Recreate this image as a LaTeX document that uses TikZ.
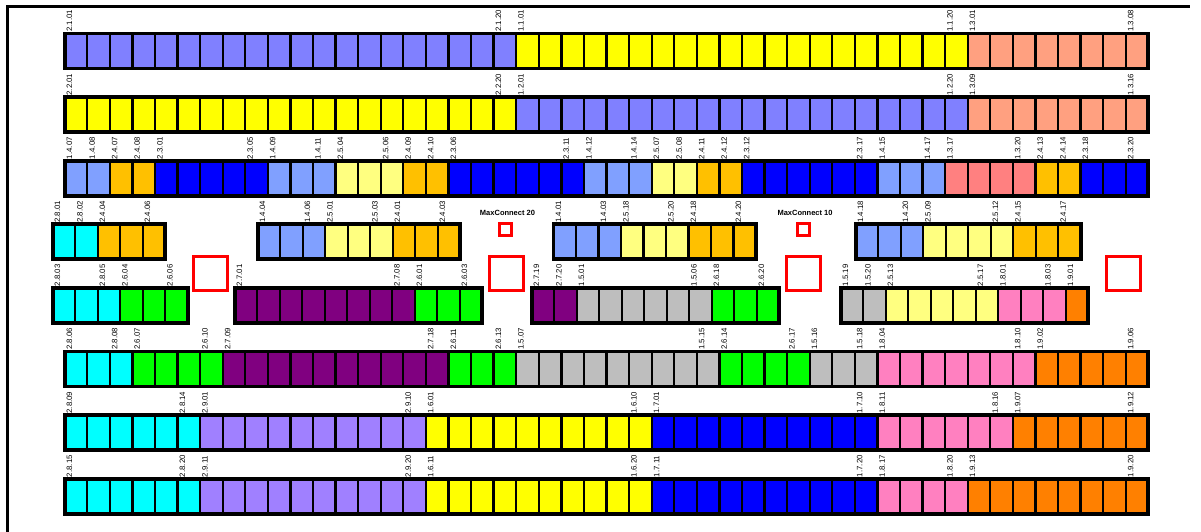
\documentclass[tikz,border=0pt]{standalone}
\usepackage{fontspec}
\setmainfont{Liberation Sans}
\definecolor{peri}{HTML}{8080FF}
\definecolor{yel}{HTML}{FFFF00}
\definecolor{salm}{HTML}{FFA080}
\definecolor{salmb}{HTML}{FF8080}
\definecolor{lblu}{HTML}{80A0FF}
\definecolor{orng}{HTML}{FFC000}
\definecolor{blu}{HTML}{0000FF}
\definecolor{lyel}{HTML}{FFFF80}
\definecolor{cyn}{HTML}{00FFFF}
\definecolor{grn}{HTML}{00FF00}
\definecolor{purp}{HTML}{800080}
\definecolor{gry}{HTML}{BEBEBE}
\definecolor{pnk}{HTML}{FF80C0}
\definecolor{orgb}{HTML}{FF8000}
\definecolor{lav}{HTML}{A080FF}
\def\RH{35}
\tikzset{
  cellbox/.style={draw=black, line width=2.3pt},
  rowline/.style={draw=black, line width=3.8pt},
  lbl/.style={rotate=90, anchor=south west, inner sep=0pt, font=\fontsize{7.8}{8}\selectfont},
  mclbl/.style={inner sep=0pt, font=\bfseries\fontsize{7.5}{8}\selectfont},
  smallsq/.style={draw=red, line width=3pt, minimum size=12.5pt, inner sep=0pt},
  bigsq/.style={draw=red, line width=3pt, minimum size=34pt, inner sep=0pt},
  frameline/.style={draw=black, line width=3pt}
}
% #1 x0, #2 top, #3 cell width, #4 list start/count/colour
\newcommand\segs[4]{\foreach \s/\n/\c in {#4}{\foreach \k in {1,...,\n}{\filldraw[cellbox,fill=\c] ({#1+(\s+\k-1)*#3},#2) rectangle ++(#3,\RH);}}}
% #1 x0, #2 top, #3 cell width, #4 number of cells
\newcommand\rowbox[4]{\draw[rowline] (#1,#2) rectangle ++({#3*#4},\RH);}
% #1 x0, #2 top, #3 cell width, #4 list index/text, #5 id
\newcommand\labs[5]{\foreach \i/\t [count=\q] in {#4}{\node[lbl] (lab-#5-\q) at ({#1+\i*#3+7.8},{#2-1.5}) {\t};}}
\begin{document}
\begin{tikzpicture}[x=1pt,y=-1pt]
\useasboundingbox (0,0) rectangle (1201,532);
\draw[frameline] (7,533) -- (7,7) -- (1190,7);
\def\X{64.7}\def\W{22.575}
% row 1
\segs{\X}{33.5}{\W}{0/20/peri,20/20/yel,40/8/salm}
\rowbox{\X}{33.5}{\W}{48}
\labs{\X}{33.5}{\W}{0/2.1.01,19/2.1.20,20/1.1.01,39/1.1.20,40/1.3.01,47/1.3.08}{r1}
% row 2
\segs{\X}{97.1}{\W}{0/20/yel,20/20/peri,40/8/salm}
\rowbox{\X}{97.1}{\W}{48}
\labs{\X}{97.1}{\W}{0/2.2.01,19/2.2.20,20/1.2.01,39/1.2.20,40/1.3.09,47/1.3.16}{r2}
% row 3
\segs{\X}{160.7}{\W}{0/2/lblu,2/2/orng,4/5/blu,9/3/lblu,12/3/lyel,15/2/orng,17/6/blu,23/3/lblu,26/2/lyel,28/2/orng,30/6/blu,36/3/lblu,39/4/salmb,43/2/orng,45/3/blu}
\rowbox{\X}{160.7}{\W}{48}
\labs{\X}{160.7}{\W}{0/1.4.07,1/1.4.08,2/2.4.07,3/2.4.08,4/2.3.01,8/2.3.05,9/1.4.09,11/1.4.11,12/2.5.04,14/2.5.06,15/2.4.09,16/2.4.10,17/2.3.06,22/2.3.11,23/1.4.12,25/1.4.14,26/2.5.07,27/2.5.08,28/2.4.11,29/2.4.12,30/2.3.12,35/2.3.17,36/1.4.15,38/1.4.17,39/1.3.17,42/1.3.20,43/2.4.13,44/2.4.14,45/2.3.18,47/2.3.20}{r3}
% row 4
\def\V{22.5}
\segs{52.7}{224.3}{\V}{0/2/cyn,2/3/orng}
\rowbox{52.7}{224.3}{\V}{5}
\labs{52.7}{224.3}{\V}{0/2.8.01,1/2.8.02,2/2.4.04,4/2.4.06}{r4a}
\segs{257.7}{224.3}{\V}{0/3/lblu,3/3/lyel,6/3/orng}
\rowbox{257.7}{224.3}{\V}{9}
\labs{257.7}{224.3}{\V}{0/1.4.04,2/1.4.06,3/2.5.01,5/2.5.03,6/2.4.01,8/2.4.03}{r4b}
\segs{553.5}{224.3}{\V}{0/3/lblu,3/3/lyel,6/3/orng}
\rowbox{553.5}{224.3}{\V}{9}
\labs{553.5}{224.3}{\V}{0/1.4.01,2/1.4.03,3/2.5.18,5/2.5.20,6/2.4.18,8/2.4.20}{r4c}
\segs{855.7}{224.3}{\V}{0/3/lblu,3/4/lyel,7/3/orng}
\rowbox{855.7}{224.3}{\V}{10}
\labs{855.7}{224.3}{\V}{0/1.4.18,2/1.4.20,3/2.5.09,6/2.5.12,7/2.4.15,9/2.4.17}{r4d}
% row 5
\segs{52.7}{287.9}{\V}{0/3/cyn,3/3/grn}
\rowbox{52.7}{287.9}{\V}{6}
\labs{52.7}{287.9}{\V}{0/2.8.03,2/2.8.05,3/2.6.04,5/2.6.06}{r5a}
\segs{234.7}{287.9}{\V}{0/8/purp,8/3/grn}
\rowbox{234.7}{287.9}{\V}{11}
\labs{234.7}{287.9}{\V}{0/2.7.01,7/2.7.08,8/2.6.01,10/2.6.03}{r5b}
\segs{531.7}{287.9}{\V}{0/2/purp,2/6/gry,8/3/grn}
\rowbox{531.7}{287.9}{\V}{11}
\labs{531.7}{287.9}{\V}{0/2.7.19,1/2.7.20,2/1.5.01,7/1.5.06,8/2.6.18,10/2.6.20}{r5c}
\segs{840.7}{287.9}{\V}{0/2/gry,2/5/lyel,7/3/pnk,10/1/orgb}
\rowbox{840.7}{287.9}{\V}{11}
\labs{840.7}{287.9}{\V}{0/1.5.19,1/1.5.20,2/2.5.13,6/2.5.17,7/1.8.01,9/1.8.03,10/1.9.01}{r5d}
% row 6
\segs{\X}{351.5}{\W}{0/3/cyn,3/4/grn,7/10/purp,17/3/grn,20/9/gry,29/4/grn,33/3/gry,36/7/pnk,43/5/orgb}
\rowbox{\X}{351.5}{\W}{48}
\labs{\X}{351.5}{\W}{0/2.8.06,2/2.8.08,3/2.6.07,6/2.6.10,7/2.7.09,16/2.7.18,17/2.6.11,19/2.6.13,20/1.5.07,28/1.5.15,29/2.6.14,32/2.6.17,33/1.5.16,35/1.5.18,36/1.8.04,42/1.8.10,43/1.9.02,47/1.9.06}{r6}
% row 7
\segs{\X}{415.1}{\W}{0/6/cyn,6/10/lav,16/10/yel,26/10/blu,36/6/pnk,42/6/orgb}
\rowbox{\X}{415.1}{\W}{48}
\labs{\X}{415.1}{\W}{0/2.8.09,5/2.8.14,6/2.9.01,15/2.9.10,16/1.6.01,25/1.6.10,26/1.7.01,35/1.7.10,36/1.8.11,41/1.8.16,42/1.9.07,47/1.9.12}{r7}
% row 8
\segs{\X}{478.7}{\W}{0/6/cyn,6/10/lav,16/10/yel,26/10/blu,36/4/pnk,40/8/orgb}
\rowbox{\X}{478.7}{\W}{48}
\labs{\X}{478.7}{\W}{0/2.8.15,5/2.8.20,6/2.9.11,15/2.9.20,16/1.6.11,25/1.6.20,26/1.7.11,35/1.7.20,36/1.8.17,39/1.8.20,40/1.9.13,47/1.9.20}{r8}
% MaxConnect markers
\node[mclbl] (mc20) at (507.5,213) {MaxConnect 20};
\node[smallsq] (sq20) at (505.5,229.5) {};
\node[mclbl] (mc10) at (805,213) {MaxConnect 10};
\node[smallsq] (sq10) at (803.5,229.5) {};
% big red squares
\node[bigsq] (bs1) at (210,273.5) {};
\node[bigsq] (bs2) at (506,273.5) {};
\node[bigsq] (bs3) at (803.5,273.5) {};
\node[bigsq] (bs4) at (1123,273.5) {};
\end{tikzpicture}
\end{document}
